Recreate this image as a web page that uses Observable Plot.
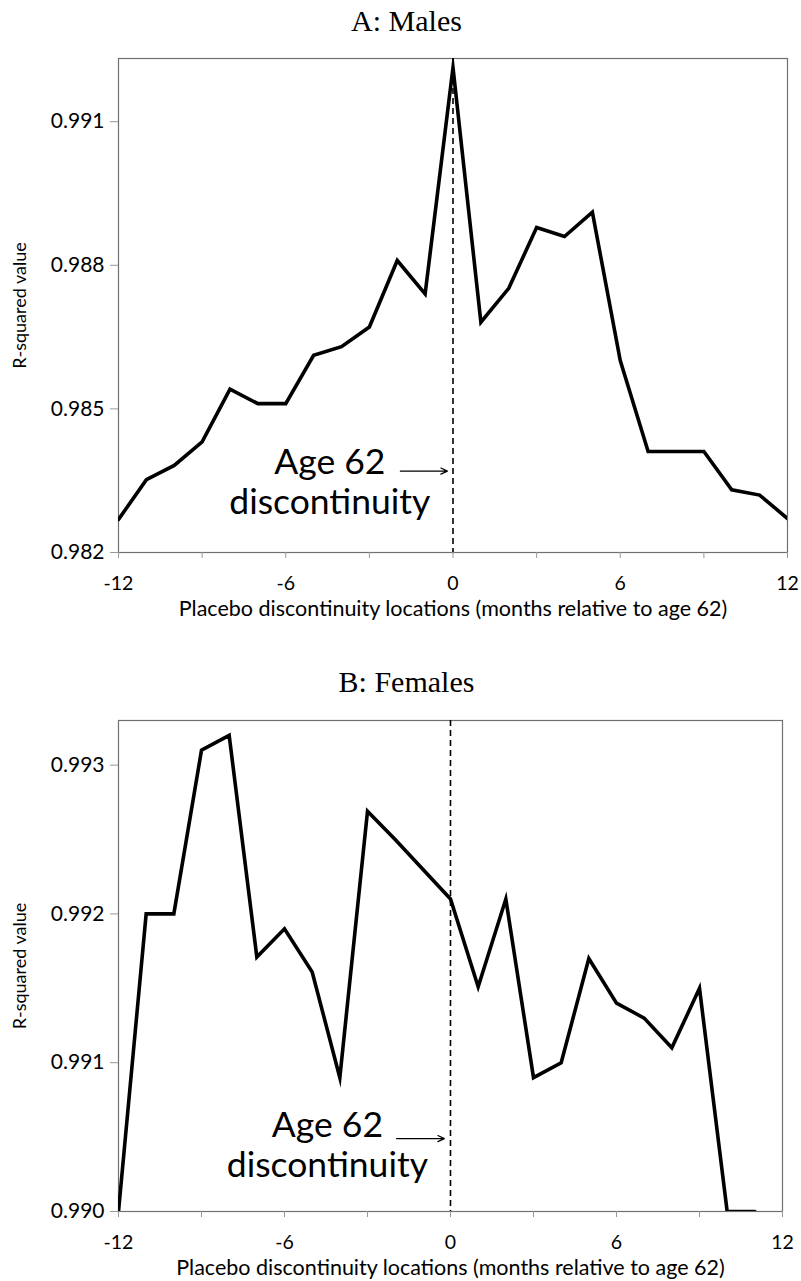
<!DOCTYPE html>
<html>
<head>
<meta charset="utf-8">
<script src="https://cdn.jsdelivr.net/npm/d3@7"></script>
<script src="https://cdn.jsdelivr.net/npm/@observablehq/plot@0.6"></script>
<style>
  html, body { margin: 0; padding: 0; background: #fff; }
  #page { position: relative; width: 801px; height: 1281px; overflow: hidden; }
  .title { position: absolute; left: 6px; width: 801px; text-align: center; line-height: 30px;
           font-family: "Liberation Serif", "Times New Roman", serif; font-size: 30px; color: #000; }
  .panel { position: absolute; left: 0; }
</style>
</head>
<body>
<div id="page">
  <div class="title" id="titleA" style="top:6px;">A: Males</div>
  <div id="panelA" class="panel" style="top:40px;"></div>
  <div class="title" id="titleB" style="top:667px;">B: Females</div>
  <div id="panelB" class="panel" style="top:700px;"></div>
</div>
<script>
// ---- data ----
const months = [-12,-11,-10,-9,-8,-7,-6,-5,-4,-3,-2,-1,0,1,2,3,4,5,6,7,8,9,10,11,12];
const malesR2 = [0.98269,0.98352,0.98382,0.98431,0.98541,0.98511,0.98511,0.98612,0.98630,0.98671,
                 0.98810,0.98740,0.99213,0.98681,0.98752,0.98879,0.98860,0.98911,0.98601,0.98411,
                 0.98411,0.98411,0.98331,0.98320,0.98271];
const femaleMonths = [-12,-11,-10,-9,-8,-7,-6,-5,-4,-3,-2,-1,0,1,2,3,4,5,6,7,8,9,10,11];
const femalesR2 = [0.99000,0.99200,0.99200,0.99310,0.99320,0.99171,0.99190,0.99161,0.99090,0.99269,
                   0.99250,0.99230,0.99210,0.99151,0.99210,0.99090,0.99100,0.99170,0.99140,0.99130,
                   0.99110,0.99150,0.99000,0.99000];
const xTickLabels = [-12,-6,0,6,12];
const xMinorTicks = [-12,-9,-6,-3,0,3,6,9,12];
const yTicksMales = [0.982,0.985,0.988,0.991];
const yTicksFemales = [0.990,0.991,0.992,0.993];
const yDomainMales = [0.982,0.99232];
const yDomainFemales = [0.990,0.99330];
const discontinuity = [0];
const annotationText = "Age 62\ndiscontinuity";
const yLabel = "R-squared value";
const xLabel = "Placebo discontinuity locations (months relative to age 62)";
// annotation anchor points (data units)
const annotMales = {tx: -4.42, ty: 0.98349, ax1: -1.89, ax2: -0.2, ay: 0.98370};
const annotFemales = {tx: -4.45, ty: 0.99045, ax1: -1.95, ax2: -0.22, ay: 0.99049};

const FONT = "Lato, 'Open Sans', sans-serif";

function panel({xs, ys, yDomain, yTicks, height, marginRight, marginBottom, marginTop, annot}) {
  const data = xs.map((x, i) => ({x, y: ys[i]}));
  return Plot.plot({
    width: 801,
    height,
    marginLeft: 118,
    marginRight,
    marginTop,
    marginBottom,
    style: {fontFamily: FONT, fontSize: "19px", color: "#000", background: "#fff"},
    x: {domain: [-12, 12]},
    y: {domain: yDomain},
    marks: [
      Plot.frame({stroke: "#707070", strokeWidth: 1.2}),
      Plot.axisY({ticks: yTicks, tickFormat: d3.format(".3f"), tickSize: 8, tickPadding: 6,
                  stroke: "#999", label: null, fontSize: 21}),
      Plot.axisX({ticks: xMinorTicks, tickFormat: () => "", tickSize: 6, stroke: "#999", label: null}),
      Plot.axisX({ticks: xTickLabels, tickFormat: d => String(d), tickSize: 0, tickPadding: 24,
                  label: null, fontSize: 19.5}),
      Plot.ruleX(discontinuity, {stroke: "#000", strokeWidth: 1.6, strokeDasharray: "6,4"}),
      Plot.line(data, {x: "x", y: "y", stroke: "#000", strokeWidth: 3.6, strokeLinejoin: "miter", strokeMiterlimit: 10, clip: true}),
      Plot.text([annotationText], {x: annot.tx, y: annot.ty, text: d => d, fontSize: 35.5, lineHeight: 1.13,
                  textAnchor: "middle", lineAnchor: "middle", fill: "#000"}),
      Plot.arrow([annot], {x1: "ax1", x2: "ax2", y1: "ay", y2: "ay", stroke: "#000", strokeWidth: 1.2,
                  headLength: 9, headAngle: 50}),
      Plot.text([yLabel], {frameAnchor: "left", rotate: -90, dx: -98, text: d => d, fontSize: 18,
                  textAnchor: "middle", lineAnchor: "middle", fill: "#000"}),
      Plot.text([xLabel], {frameAnchor: "bottom", dy: 57, text: d => d, fontSize: 21.5,
                  textAnchor: "middle", lineAnchor: "middle", fill: "#000"})
    ]
  });
}

document.getElementById("panelA").appendChild(panel({
  xs: months, ys: malesR2, yDomain: yDomainMales, yTicks: yTicksMales,
  height: 585, marginTop: 18, marginBottom: 73, marginRight: 14, annot: annotMales
}));
document.getElementById("panelB").appendChild(panel({
  xs: femaleMonths, ys: femalesR2, yDomain: yDomainFemales, yTicks: yTicksFemales,
  height: 581, marginTop: 20, marginBottom: 70, marginRight: 19, annot: annotFemales
}));
</script>
</body>
</html>
